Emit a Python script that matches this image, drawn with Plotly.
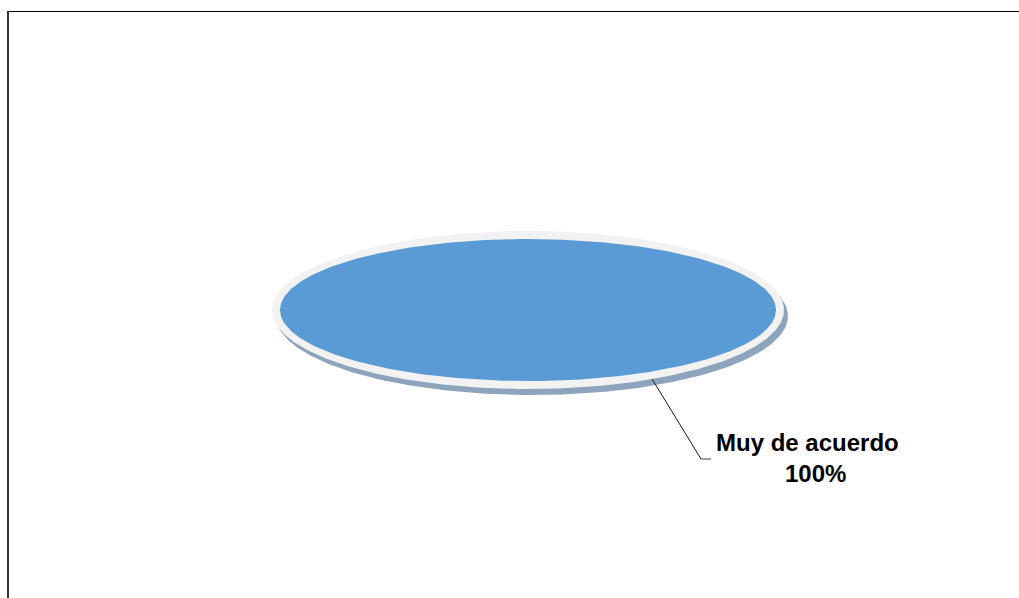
import numpy as np
import plotly.graph_objects as go

# ---- data ----
labels = ["Muy de acuerdo"]
values = [100]
colors = ["#5B9BD5"]

# ---- layout / style constants (pixel units) ----
W, H = 1019, 598
CX, CY = 528, 310          # pie centre
RX, RY = 248, 71           # pie face radii
RIM = 8                    # light bevel rim width
SHADOW_DX, SHADOW_DY = 4, 6
RIM_COLOR = "#F2F2F2"
SHADOW_COLOR = "#8DA4BC"
LEADER_ANGLE = 151         # degrees clockwise from 12 o'clock
NAME_POS = (807, 442.5)    # label line 1 (category name)
PCT_POS = (815, 473)       # label line 2 (percentage)
LEADER_END = (701, 459)
LEADER_TAIL = 10
FONT = dict(family="Liberation Sans, Arial", size=24, color="#000000")

fig = go.Figure()


def ellipse_pts(cx, cy, rx, ry, a0, a1, n=400):
    t = np.radians(np.linspace(a0, a1, n))
    return cx + rx * np.sin(t), cy - ry * np.cos(t)


total = sum(values)

# shadow and rim under the whole pie
xs, ys = ellipse_pts(CX + SHADOW_DX, CY + SHADOW_DY, RX + RIM, RY + RIM, 0, 360)
fig.add_trace(go.Scatter(x=xs, y=ys, fill="toself", mode="lines",
                         line=dict(width=0, color=SHADOW_COLOR),
                         fillcolor=SHADOW_COLOR, hoverinfo="skip", showlegend=False))
xs, ys = ellipse_pts(CX, CY, RX + RIM, RY + RIM, 0, 360)
fig.add_trace(go.Scatter(x=xs, y=ys, fill="toself", mode="lines",
                         line=dict(width=0, color=RIM_COLOR),
                         fillcolor=RIM_COLOR, hoverinfo="skip", showlegend=False))

# slices
start = 0.0
for lab, val, col in zip(labels, values, colors):
    frac = val / total
    end = start + 360 * frac
    xs, ys = ellipse_pts(CX, CY, RX, RY, start, end)
    if frac < 1:
        xs = np.concatenate([[CX], xs, [CX]])
        ys = np.concatenate([[CY], ys, [CY]])
    fig.add_trace(go.Scatter(x=xs, y=ys, fill="toself", mode="lines",
                             line=dict(width=0, color=col), fillcolor=col,
                             name=lab, hoverinfo="name", showlegend=False))
    pct = f"{frac * 100:.0f}%"
    # leader line
    ta = np.radians(LEADER_ANGLE)
    sx = CX + (RX + RIM) * np.sin(ta)
    sy = CY - (RY + RIM) * np.cos(ta)
    fig.add_trace(go.Scatter(x=[sx, LEADER_END[0]], y=[sy, LEADER_END[1]], mode="lines",
                             line=dict(width=1, color="#1a1a1a"),
                             hoverinfo="skip", showlegend=False))
    fig.add_trace(go.Scatter(x=[LEADER_END[0], LEADER_END[0] + LEADER_TAIL],
                             y=[LEADER_END[1], LEADER_END[1]], mode="lines",
                             line=dict(width=1.5, color="#808080"),
                             hoverinfo="skip", showlegend=False))
    fig.add_annotation(x=NAME_POS[0], y=NAME_POS[1], xref="x", yref="y",
                       text=f"<b>{lab}</b>", showarrow=False,
                       xanchor="center", yanchor="middle", font=FONT)
    fig.add_annotation(x=PCT_POS[0], y=PCT_POS[1], xref="x", yref="y",
                       text=f"<b>{pct}</b>", showarrow=False,
                       xanchor="center", yanchor="middle", font=FONT)
    start = end

# chart frame (only top and left edges are visible in the crop)
fig.add_shape(type="line", x0=8, x1=W + 5, y0=11.5, y1=11.5, xref="x", yref="y",
              line=dict(color="#000000", width=1))
fig.add_shape(type="line", x0=8, x1=8, y0=11, y1=H + 5, xref="x", yref="y",
              line=dict(color="#333333", width=2))

fig.update_layout(
    width=W, height=H,
    margin=dict(l=0, r=0, t=0, b=0),
    paper_bgcolor="white", plot_bgcolor="white",
    xaxis=dict(range=[0, W], visible=False, fixedrange=True),
    yaxis=dict(range=[H, 0], visible=False, fixedrange=True),
    showlegend=False,
)

fig.write_html("out.html")
